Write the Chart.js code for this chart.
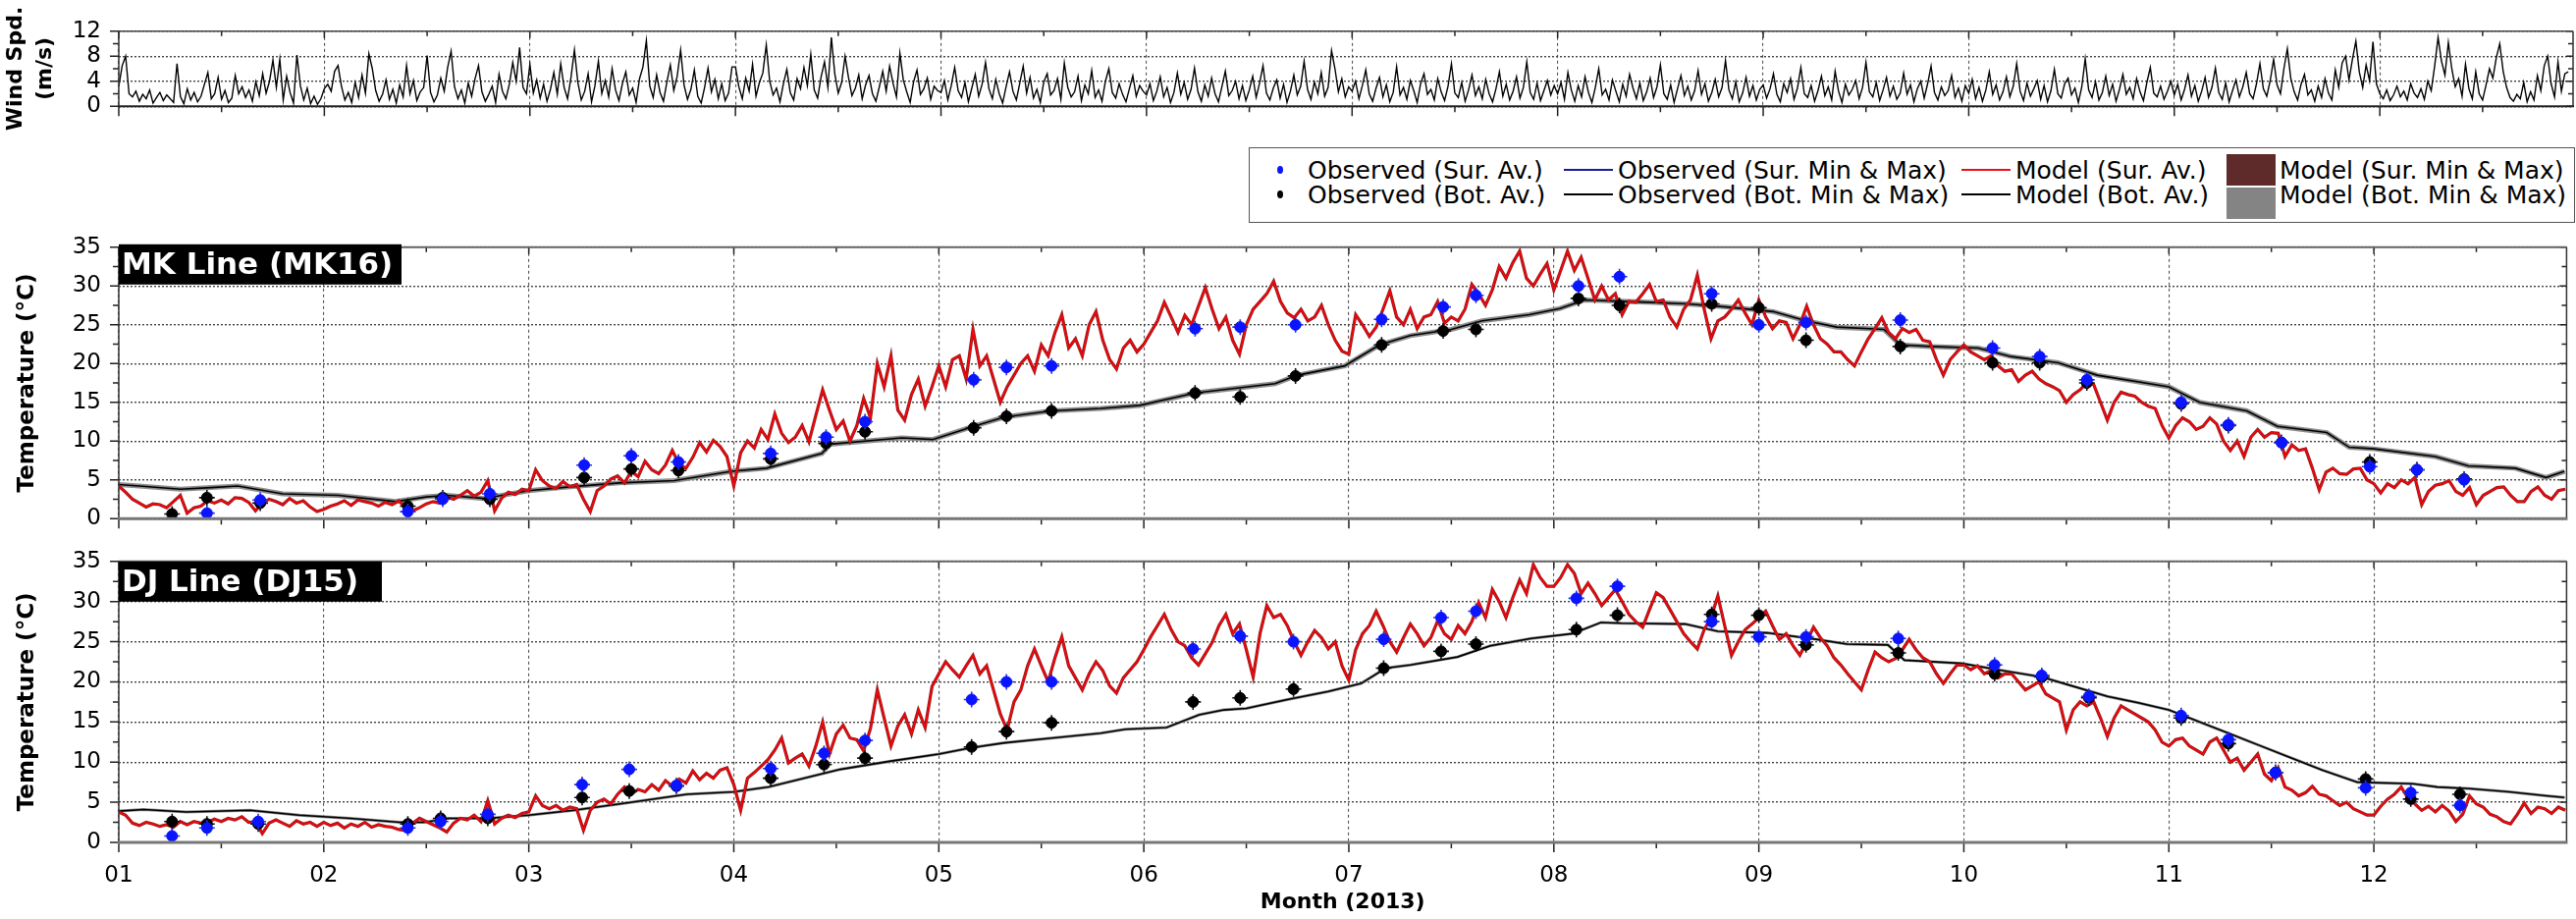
<!DOCTYPE html>
<html><head><meta charset="utf-8">
<script src="https://cdn.jsdelivr.net/npm/chart.js@4.4.1/dist/chart.umd.min.js"></script>
<style>
html,body{margin:0;padding:0;background:#fff;width:2624px;height:936px;overflow:hidden}
canvas.cv{position:absolute;left:0}
#legend{position:absolute;left:1272px;top:150px;width:1351px;height:77px;border:1.5px solid #555;box-sizing:border-box;font-family:'DejaVu Sans',sans-serif;font-size:25px;color:#000;background:#fff}
.lt{position:absolute;white-space:nowrap;line-height:1;transform:translateY(-50%)}
.lm{position:absolute}
</style></head><body>
<canvas id="cWind" class="cv" style="top:0" width="2624" height="140"></canvas>
<canvas id="cMK" class="cv" style="top:220px" width="2624" height="340"></canvas>
<canvas id="cDJ" class="cv" style="top:540px" width="2624" height="396"></canvas>
<div id="legend"></div>
<script>
// ---------- axis / tick definitions ----------
const monthLabels = ['01','02','03','04','05','06','07','08','09','10','11','12'];
const xMajorTicks = [0,1,2,3,4,5,6,7,8,9,10,11];
const xMinorTicks = [0.5,1.5,2.5,3.5,4.5,5.5,6.5,7.5,8.5,9.5,10.5,11.5];
const xMax = 11.94;
const windMajorTicks = [0,4,8,12];
const windMinorTicks = [2,6,10];
const tempMajorTicks = [0,5,10,15,20,25,30,35];
const tempMinorTicks = [2.5,7.5,12.5,17.5,22.5,27.5,32.5];
const windPerMonth = 60;   // samples per month in windSpeed
const tempPerMonth = 30;   // samples per month in model surface series

// ---------- wind speed (m/s) ----------
const windSpeed = [
3.2,6.5,8.0,2.0,1.5,2.4,0.8,1.9,1.2,2.6,0.5,1.4,2.2,0.9,1.8,1.2,0.6,6.8,1.5,0.4,2.8,1.0,2.2,0.7,1.6,3.5,5.4,1.2,2.0,4.6,1.1,2.5,0.6,1.3,4.9,2.0,3.1,1.4,2.6,0.8,3.9,1.7,5.2,2.1,4.0,7.4,3.0,7.5,1.0,4.8,2.2,0.5,8.2,3.3,1.0,2.9,0.4,1.6,0.3,1.2,
2.8,3.5,2.4,5.6,6.5,3.2,1.0,2.2,0.6,3.8,1.4,5.0,2.1,8.4,6.0,2.5,0.8,1.9,4.2,1.1,2.7,0.5,3.4,1.5,6.5,2.0,4.1,0.9,2.3,3.0,8.1,2.2,0.7,1.8,4.5,2.4,6.2,8.8,3.1,1.2,2.6,0.5,3.7,1.6,4.4,6.5,2.3,0.8,1.9,3.2,0.6,5.1,2.4,1.2,3.5,7.0,4.0,9.4,3.0,2.0,
6.7,2.1,4.2,1.3,3.5,0.8,2.7,5.4,1.9,6.8,3.0,1.2,4.6,9.0,3.8,1.0,2.4,5.2,0.7,3.3,7.2,2.0,4.1,1.5,6.0,2.6,0.9,3.6,5.5,1.8,2.9,0.6,4.4,6.3,10.5,3.2,1.4,5.0,2.2,0.8,3.9,6.6,2.5,4.8,9.0,3.4,1.1,2.7,5.8,1.6,0.5,3.0,6.1,2.3,4.3,1.2,3.6,0.9,2.1,6.3,
6.3,3.1,1.2,4.5,2.4,6.7,1.6,3.8,5.3,9.8,4.0,1.8,2.9,0.7,3.6,5.9,2.2,1.0,4.4,2.8,6.2,3.3,8.3,2.6,1.3,4.7,7.1,3.0,11.0,5.2,2.1,3.8,8.0,4.6,1.7,2.9,5.0,1.2,3.4,4.9,2.0,0.8,3.1,5.6,2.4,6.4,3.7,1.5,8.5,4.2,2.3,0.6,3.9,5.8,1.9,2.8,4.5,1.1,3.2,2.5,
2.2,4.1,1.0,3.3,6.2,2.5,1.4,3.8,0.7,2.9,5.1,1.6,3.5,7.0,2.8,1.2,4.3,2.0,0.5,3.1,5.5,2.4,1.0,3.7,6.4,2.1,4.6,1.3,2.7,0.6,3.9,5.2,1.8,2.5,4.4,1.1,6.9,3.0,1.5,2.3,4.8,0.9,3.4,2.0,5.7,1.4,2.6,0.8,4.0,6.0,2.2,1.3,3.6,1.9,0.7,2.8,4.9,1.6,3.3,2.4,
1.8,3.6,0.9,2.4,4.7,1.5,3.0,0.6,2.2,5.3,1.9,3.8,1.1,2.7,6.1,2.3,0.8,3.4,1.6,4.5,2.0,0.7,3.1,5.6,1.7,2.5,4.0,1.2,3.3,0.9,2.6,4.8,1.4,3.7,6.5,2.1,1.0,2.9,4.2,1.3,3.5,0.6,2.4,5.0,1.8,3.2,7.2,2.7,1.1,3.9,2.0,5.4,1.6,3.0,8.9,6.0,2.3,4.4,1.5,3.1,
2.4,4.0,1.2,3.3,5.8,2.0,0.8,2.9,4.6,1.5,3.4,0.7,2.2,6.3,1.8,3.0,1.1,4.1,2.5,0.6,3.6,5.2,1.9,2.7,1.0,4.4,2.3,0.9,3.2,6.8,2.1,1.4,3.8,0.8,2.6,5.0,1.7,3.1,1.2,4.3,2.0,0.7,2.8,5.5,1.6,3.5,1.0,2.4,4.7,1.3,3.0,7.1,2.2,1.1,3.7,0.9,2.5,4.1,1.8,3.3,
2.0,3.8,1.1,5.4,2.6,0.8,3.3,1.5,4.7,2.2,0.6,3.0,6.0,1.8,2.7,1.0,4.2,2.4,0.7,3.5,1.6,5.1,2.9,1.2,3.7,0.9,2.3,4.5,1.4,3.1,6.6,2.0,1.1,3.4,0.6,2.8,4.9,1.7,3.2,1.0,2.5,5.7,1.9,3.6,0.8,2.2,4.3,1.5,3.0,7.3,2.6,1.2,3.9,0.7,2.1,4.6,1.6,3.3,1.0,2.7,
3.4,1.3,2.8,5.2,1.9,0.7,3.6,2.2,4.4,1.1,2.9,6.2,2.0,1.4,3.3,0.8,2.5,4.8,1.7,3.1,1.0,5.6,2.4,0.6,3.5,1.8,2.7,4.1,1.2,3.0,7.0,2.3,1.5,3.8,0.9,2.6,4.6,1.6,3.2,1.1,2.1,5.3,1.9,3.4,0.7,2.8,4.0,1.3,3.6,6.4,2.2,1.0,3.1,1.7,2.5,4.9,1.4,2.9,0.8,3.3,
2.1,4.3,1.2,3.0,0.8,2.6,5.5,1.9,3.4,1.0,2.3,4.7,1.5,3.2,6.8,2.4,0.9,3.7,1.6,2.8,4.1,1.1,3.3,0.7,2.5,5.9,2.0,1.3,3.6,4.5,1.8,2.9,0.6,3.1,7.6,2.6,1.4,3.9,1.0,2.2,4.8,1.7,3.5,0.8,2.7,5.1,1.9,3.0,1.2,4.4,2.3,0.9,3.8,6.2,2.1,1.5,3.2,1.1,2.4,4.0,
1.8,3.5,1.0,2.7,5.0,1.6,3.3,0.8,2.4,4.6,1.4,3.0,6.1,2.2,1.1,3.7,0.7,2.5,4.2,1.5,3.1,5.4,2.0,1.2,3.6,6.8,2.8,1.6,4.1,7.5,3.4,2.0,6.0,9.2,4.5,2.3,1.0,3.5,5.1,1.8,2.6,0.8,3.2,1.4,4.4,2.1,1.0,5.8,3.0,6.9,8.0,4.2,7.5,10.4,5.5,3.0,6.6,4.1,10.3,3.6,
2.0,1.2,2.6,0.9,1.8,3.2,1.5,2.4,1.0,3.6,2.1,1.4,2.8,1.1,4.0,2.5,6.4,11.0,7.2,5.0,10.2,6.0,3.1,4.4,1.6,6.7,2.8,1.2,5.5,2.0,1.0,3.4,6.0,4.5,7.8,10.0,5.6,3.0,1.4,0.8,1.9,1.2,3.8,0.7,2.3,1.0,4.9,2.5,6.5,8.0,3.6,1.5,7.1,2.4,5.2,5.5
];

// ---------- MK16 model surface temperature (daily) ----------
const mkSurface = [
4.2,3.4,2.5,2.0,1.5,1.9,1.8,1.4,2.2,3.0,0.7,1.4,1.6,2.3,2.0,2.4,1.9,2.7,2.6,2.1,1.0,2.0,2.5,2.2,1.8,2.6,2.0,2.3,1.5,0.9,
1.2,1.6,1.9,2.3,1.7,2.4,2.2,2.0,1.6,2.1,1.8,2.3,1.3,1.0,1.4,1.9,2.2,2.0,2.8,2.5,3.0,3.6,2.9,3.4,4.9,1.0,2.6,3.4,3.1,3.8,
3.6,6.3,4.9,4.2,3.9,4.8,4.1,4.4,2.5,0.9,3.6,4.2,5.1,5.5,4.6,6.1,5.4,7.4,6.3,5.8,6.9,8.8,7.0,6.5,7.9,9.8,8.6,10.1,9.3,8.0,
4.2,8.5,10.0,9.1,11.5,10.2,13.5,11.0,9.8,10.5,12.0,9.9,13.3,16.6,14.0,11.5,12.6,10.0,12.0,15.5,13.0,20.0,17.0,21.0,14.0,12.7,16.0,18.0,14.5,17.0,
19.7,17.0,20.5,21.0,18.0,24.4,19.7,21.0,18.0,15.0,17.0,18.5,20.0,21.0,19.0,22.4,21.0,24.0,26.3,22.0,23.2,21.0,25.0,26.7,23.0,20.5,19.3,22.0,23.0,21.5,
22.5,24.0,25.5,27.9,26.0,24.0,26.2,25.0,27.4,29.8,27.0,24.5,26.0,23.0,21.2,25.0,27.0,28.0,29.0,30.6,28.0,26.5,25.9,27.0,25.5,26.0,27.5,25.0,23.0,21.6,
21.2,26.3,25.0,23.5,24.7,27.0,29.4,26.0,25.0,27.0,24.5,26.0,26.3,28.0,25.2,26.0,25.5,27.0,30.2,29.0,27.5,29.5,32.5,31.0,33.0,34.5,31.0,30.0,31.5,32.9,
29.5,32.0,34.5,32.0,33.7,31.0,28.2,30.0,28.2,29.0,26.3,28.0,27.9,29.0,30.2,28.0,28.2,26.0,24.7,27.0,28.2,31.4,27.0,23.2,25.5,26.0,27.0,28.2,26.5,25.0,
28.2,26.0,24.5,25.5,25.3,23.2,25.0,27.4,25.0,23.2,22.5,21.5,21.5,20.5,19.7,21.5,23.2,24.5,25.9,24.0,23.2,24.5,24.0,24.4,23.0,22.8,20.5,18.5,20.5,21.5,
22.4,21.5,21.0,20.5,21.0,19.7,19.0,19.2,17.7,18.5,19.0,18.0,17.4,17.0,16.5,15.0,16.0,16.6,17.5,17.3,15.0,12.7,15.0,16.3,16.0,15.8,15.0,14.5,14.2,12.0,
10.4,12.0,13.0,12.5,11.5,11.9,13.0,12.2,10.0,8.8,10.0,8.0,10.5,11.5,10.5,11.1,11.0,8.0,9.5,8.8,9.0,6.5,3.7,6.0,6.5,5.8,5.7,6.4,6.5,5.0,
4.5,3.3,4.5,4.0,5.0,4.5,5.3,1.8,3.5,4.3,4.5,4.9,3.5,3.0,4.0,1.8,3.0,3.5,4.0,4.1,3.0,2.2,2.2,3.5,4.1,3.0,2.5,3.6,3.8
];
// MK16 model bottom temperature [month, °C]
const mkBottom = [[0,4.4],[0.1,4.2],[0.3,3.8],[0.45,4.0],[0.58,4.2],[0.8,3.2],[1.07,3.0],[1.35,2.2],[1.5,2.8],[1.6,3.0],[1.78,2.6],[2.0,3.6],[2.16,4.0],[2.44,4.6],[2.71,4.9],[2.99,6.1],[3.16,6.5],[3.43,8.4],[3.47,9.6],[3.82,10.4],[3.97,10.2],[4.17,11.9],[4.32,13.1],[4.55,13.9],[4.79,14.2],[4.98,14.6],[5.25,16.2],[5.64,17.4],[5.75,18.5],[5.98,19.7],[6.03,20.5],[6.15,22.4],[6.3,23.6],[6.5,24.4],[6.65,25.5],[6.88,26.3],[7.03,27.1],[7.15,28.2],[7.46,27.9],[7.65,27.7],[7.84,27.3],[8.07,26.7],[8.23,25.5],[8.38,24.7],[8.61,24.4],[8.69,22.4],[8.84,22.2],[9.07,22.0],[9.23,20.9],[9.46,20.1],[9.65,18.5],[10.0,17.0],[10.15,15.0],[10.38,13.9],[10.53,11.9],[10.77,11.1],[10.88,9.2],[11.0,9.0],[11.3,8.0],[11.46,6.8],[11.69,6.5],[11.84,5.3],[11.93,6.1]];
// MK16 observations
const mkObsMonths = [0.26,0.43,0.69,1.41,1.58,1.81,2.27,2.50,2.73,3.18,3.45,3.64,4.17,4.33,4.55,5.25,5.47,5.74,6.16,6.46,6.62,7.12,7.32,7.77,8.0,8.23,8.69,9.14,9.37,9.60,10.06,10.29,10.55,10.98,11.21,11.44];
const mkObsSurface = [null,0.7,2.4,0.9,2.5,3.2,6.9,8.1,7.3,8.4,10.5,12.5,17.9,19.5,19.7,24.5,24.7,25.0,25.7,27.3,28.8,30.0,31.2,29.0,25.0,25.3,25.6,22.0,20.9,17.9,15.0,12.1,9.8,6.7,6.3,5.0];
const mkObsBottom = [0.6,2.7,2.0,1.6,2.7,2.5,5.3,6.4,6.2,7.7,9.7,11.2,11.7,13.2,13.9,16.2,15.7,18.4,22.4,24.2,24.4,28.4,27.5,27.7,27.2,23.0,22.2,20.1,20.1,17.5,14.8,12.0,9.8,7.3,6.3,5.1];

// ---------- DJ15 model surface temperature (daily) ----------
const djSurface = [
3.8,3.4,2.4,2.1,2.5,2.3,2.0,2.2,1.9,2.6,2.2,2.6,2.4,2.5,2.9,2.6,3.0,2.8,3.2,2.5,2.6,1.1,2.4,2.8,2.4,2.0,2.7,2.3,2.5,2.0,
2.5,2.1,2.4,1.8,2.3,2.0,2.5,1.9,2.2,2.0,1.9,1.6,1.5,2.4,3.0,2.6,2.2,1.8,1.3,2.4,3.0,2.8,3.4,2.6,5.2,2.3,3.0,3.4,3.1,3.6,
3.8,5.8,4.6,4.2,4.6,4.0,4.4,4.2,1.5,4.0,5.0,5.4,4.8,6.0,6.9,6.0,6.6,6.3,7.2,6.5,7.7,7.0,7.9,7.4,8.9,7.8,8.6,8.0,9.0,9.3,
7.2,4.0,8.0,8.7,9.5,10.3,11.5,13.0,9.9,10.5,11.0,9.5,12.0,15.0,11.0,13.5,14.6,13.0,12.8,11.4,14.2,19.0,15.5,12.0,14.5,15.9,13.5,16.5,14.3,19.4,
21.0,22.5,21.5,20.6,22.0,23.3,21.0,22.0,19.0,16.0,14.0,17.5,19.0,22.0,24.1,22.0,20.0,23.0,25.6,22.0,20.5,19.0,21.0,22.5,21.4,19.5,18.6,20.5,21.5,22.5,
24.0,25.6,27.0,28.4,26.5,25.0,24.5,23.0,22.1,23.5,24.9,27.0,28.4,26.0,27.2,24.0,20.6,26.0,29.5,28.0,28.4,27.0,25.0,23.3,25.0,26.4,25.5,24.1,25.0,22.0,
20.2,24.0,26.0,27.0,28.8,27.0,25.0,23.7,25.5,27.2,26.0,24.5,25.5,27.6,26.0,25.3,27.0,26.0,27.5,29.9,28.0,31.5,30.0,28.0,30.5,32.7,31.0,34.6,33.0,31.9,
31.9,33.0,34.6,33.5,31.0,32.3,31.0,29.5,30.5,31.5,30.0,28.4,27.5,26.8,29.0,31.1,30.5,29.0,27.5,26.0,25.0,24.1,26.5,28.0,30.7,27.0,23.3,25.0,26.5,27.2,
28.0,28.8,27.0,25.3,26.0,24.5,23.3,25.0,26.8,25.5,24.5,23.0,22.1,21.0,20.0,19.0,21.5,23.7,23.0,22.5,22.9,24.0,25.3,24.0,23.0,22.5,21.0,19.8,21.0,22.1,
22.1,21.5,22.0,21.0,21.4,20.5,21.0,21.0,20.0,19.0,19.5,20.0,18.5,18.0,17.5,14.0,16.5,17.5,17.0,17.5,15.5,13.2,15.5,17.0,16.5,16.0,15.5,15.0,14.0,12.5,
12.0,12.8,13.0,12.0,11.5,11.0,12.5,13.0,11.5,10.0,10.5,9.0,10.0,11.0,8.5,7.7,9.3,6.9,6.5,5.8,6.2,7.0,6.0,5.8,5.2,4.6,5.0,4.2,3.8,3.4,
3.4,4.5,5.4,6.0,6.9,5.5,4.8,4.0,4.5,3.8,4.6,3.9,2.6,3.5,5.8,4.8,4.4,3.5,3.2,2.6,2.3,3.5,4.9,3.6,4.4,4.2,3.6,4.4,4.0
];
// DJ15 model bottom temperature [month, °C]
const djBottom = [[0,3.9],[0.12,4.1],[0.33,3.8],[0.64,4.0],[0.88,3.4],[1.13,3.0],[1.37,2.5],[1.49,2.5],[1.61,3.0],[1.8,3.0],[2.0,3.4],[2.22,4.0],[2.47,4.9],[2.77,6.0],[3.0,6.3],[3.17,6.9],[3.52,9.1],[3.76,10.1],[4.0,11.0],[4.16,11.8],[4.32,12.4],[4.55,13.0],[4.79,13.6],[4.91,14.1],[5.11,14.3],[5.27,15.9],[5.39,16.5],[5.5,16.7],[5.7,17.8],[5.9,18.8],[6.06,19.8],[6.18,21.7],[6.3,22.1],[6.53,23.1],[6.69,24.5],[6.89,25.4],[7.09,26.0],[7.23,27.4],[7.33,27.3],[7.64,27.2],[7.8,26.3],[8.04,26.1],[8.28,25.3],[8.43,24.7],[8.63,24.6],[8.71,22.7],[8.99,22.3],[9.19,21.4],[9.38,20.6],[9.54,19.4],[9.7,18.2],[9.85,17.4],[10.0,16.5],[10.15,15.0],[10.3,13.5],[10.45,12.0],[10.6,10.5],[10.75,9.0],[10.92,7.5],[11.19,7.3],[11.31,6.9],[11.47,6.7],[11.66,6.3],[11.84,5.8],[11.93,5.6]];
// DJ15 observations
const djObsMonths = [0.26,0.43,0.68,1.41,1.57,1.80,2.26,2.49,2.72,3.18,3.44,3.64,4.16,4.33,4.55,5.24,5.47,5.73,6.17,6.45,6.62,7.11,7.31,7.77,8.0,8.23,8.68,9.15,9.38,9.61,10.06,10.29,10.52,10.96,11.18,11.42];
const djObsSurface = [0.8,1.8,2.6,1.8,2.6,3.5,7.2,9.1,7.1,9.2,11.1,12.7,17.8,20.0,20.0,24.1,25.7,25.0,25.3,28.0,28.8,30.4,31.9,27.5,25.6,25.6,25.4,22.1,20.8,18.2,15.8,12.8,8.7,6.8,6.2,4.6];
const djObsBottom = [2.6,2.3,2.3,2.3,3.0,3.0,5.6,6.4,7.0,8.0,9.7,10.5,11.9,13.8,14.9,17.5,18.0,19.1,21.7,23.8,24.7,26.5,28.3,28.4,28.3,24.6,23.6,21.0,20.6,18.0,15.5,12.3,8.7,7.9,5.4,6.0];

// ---------- helpers ----------
Chart.defaults.font.family = "'DejaVu Sans', sans-serif";
Chart.defaults.color = '#000';
const FONT_TICK = {size: 23};
const seriesXY = (arr, perMonth) => arr.map((v, i) => ({x: i / perMonth, y: v}));
const pairsXY = arr => arr.map(p => ({x: p[0], y: p[1]}));
const obsXY = (months, vals) => months.map((m, i) => ({x: m, y: vals[i]})).filter(p => p.y !== null);

const framePlugin = {
  id: 'frame',
  afterDraw(chart, args, o) {
    const {ctx, chartArea: a, scales: {x, y}} = chart;
    ctx.save();
    ctx.strokeStyle = '#222';
    ctx.lineWidth = 1.5;
    ctx.beginPath();
    xMajorTicks.forEach(v => { const p = x.getPixelForValue(v);
      ctx.moveTo(p, a.bottom); ctx.lineTo(p, a.bottom + 10); ctx.moveTo(p, a.top); ctx.lineTo(p, a.top + 7); });
    xMinorTicks.forEach(v => { const p = x.getPixelForValue(v);
      ctx.moveTo(p, a.bottom); ctx.lineTo(p, a.bottom + 6); ctx.moveTo(p, a.top); ctx.lineTo(p, a.top + 5); });
    o.yMajor.forEach(v => { const p = y.getPixelForValue(v);
      ctx.moveTo(a.left - 9, p); ctx.lineTo(a.left, p); ctx.moveTo(a.right, p); ctx.lineTo(a.right - 7, p); });
    o.yMinor.forEach(v => { const p = y.getPixelForValue(v);
      ctx.moveTo(a.left - 6, p); ctx.lineTo(a.left, p); ctx.moveTo(a.right, p); ctx.lineTo(a.right - 5, p); });
    ctx.stroke();
    ctx.strokeStyle = '#333';
    ctx.lineWidth = 1.5;
    ctx.beginPath();
    ctx.moveTo(a.left, a.top); ctx.lineTo(a.left, a.bottom);
    ctx.moveTo(a.right, a.top); ctx.lineTo(a.right, a.bottom);
    ctx.stroke();
    ctx.strokeStyle = o.topColor; ctx.lineWidth = o.topWidth;
    ctx.beginPath(); ctx.moveTo(a.left, a.top); ctx.lineTo(a.right, a.top); ctx.stroke();
    ctx.strokeStyle = o.bottomColor; ctx.lineWidth = o.bottomWidth;
    ctx.beginPath(); ctx.moveTo(a.left - 1, a.bottom); ctx.lineTo(a.right + 1, a.bottom); ctx.stroke();
    if (o.label) {
      ctx.fillStyle = '#000';
      ctx.fillRect(a.left, a.top + o.labelDy, o.labelW, 41);
      ctx.fillStyle = '#fff';
      ctx.font = "bold 31px 'DejaVu Sans'";
      ctx.textBaseline = 'middle';
      ctx.textAlign = 'left';
      ctx.fillText(o.label, a.left + 3, a.top + o.labelDy + 22);
    }
    ctx.restore();
  }
};

function xScale(height, showLabels) {
  return {
    type: 'linear', min: 0, max: xMax,
    afterFit: s => { s.height = height; },
    grid: {drawTicks: false, lineWidth: 1.1,
      color: c => (c.tick && Number.isInteger(c.tick.value)) ? '#555' : 'rgba(0,0,0,0)'},
    border: {display: false, dash: [3, 3]},
    ticks: {display: showLabels, stepSize: 0.5, includeBounds: false, autoSkip: false, maxRotation: 0,
      padding: 20, font: FONT_TICK,
      callback: v => Number.isInteger(v) ? monthLabels[v] : ''},
    title: showLabels ? {display: true, text: 'Month (2013)', font: {size: 22, weight: 'bold'}, padding: {top: 0, bottom: 4}} : {display: false}
  };
}
function yScale(max, step, labelEvery, title, titleFont, titlePad) {
  return {
    type: 'linear', min: 0, max: max,
    afterFit: s => { s.width = 121; },
    grid: {drawTicks: false, lineWidth: 1.4,
      color: c => (c.tick && Math.abs(c.tick.value % labelEvery) < 1e-6) ? '#444' : 'rgba(0,0,0,0)'},
    border: {display: false, dash: [2, 2]},
    ticks: {stepSize: step, padding: 18, font: FONT_TICK, autoSkip: false,
      callback: v => Math.abs(v % labelEvery) < 1e-6 ? String(v) : ''},
    title: {display: true, text: title, font: titleFont, padding: titlePad}
  };
}
function baseOptions(padding, xs, ys, frame) {
  return {
    responsive: false, animation: false, events: [],
    layout: {padding: padding},
    plugins: {legend: {display: false}, tooltip: {enabled: false}, frame: frame},
    scales: {x: xs, y: ys}
  };
}
function tempDatasets(sur, bot, obsM, obsS, obsB, bandW) {
  const s = seriesXY(sur, tempPerMonth);
  const b = pairsXY(bot);
  const os = obsXY(obsM, obsS), ob = obsXY(obsM, obsB);
  const line = {type: 'line', pointRadius: 0, tension: 0, fill: false, spanGaps: true};
  return [
    {type: 'scatter', label: 'Observed (Sur. Av.)', data: os, pointStyle: 'circle', pointRadius: 5.5, backgroundColor: '#0a14ff', borderColor: '#0a14ff', borderWidth: 1, order: 0},
    {type: 'scatter', label: 'Observed (Sur. Min & Max)', data: os, pointStyle: 'cross', pointRadius: 8, borderColor: '#2a35c8', borderWidth: 1.6, order: 1},
    {type: 'scatter', label: 'Observed (Bot. Av.)', data: ob, pointStyle: 'circle', pointRadius: 5.5, backgroundColor: '#000', borderColor: '#000', borderWidth: 1, order: 2},
    {type: 'scatter', label: 'Observed (Bot. Min & Max)', data: ob, pointStyle: 'cross', pointRadius: 8, borderColor: '#111', borderWidth: 1.6, order: 3},
    Object.assign({label: 'Model (Sur. Av.)', data: s, borderColor: '#f0060c', borderWidth: 1.8, order: 4}, line),
    Object.assign({label: 'Model (Sur. Min & Max)', data: s, borderColor: '#8a1f1f', borderWidth: 3.2, order: 5}, line),
    Object.assign({label: 'Model (Bot. Av.)', data: b, borderColor: '#000', borderWidth: 1.6, order: 6}, line),
    Object.assign({label: 'Model (Bot. Min & Max)', data: b, borderColor: '#8e8e8e', borderWidth: bandW, order: 7}, line)
  ];
}

// ---------- wind panel ----------
new Chart(document.getElementById('cWind'), {
  type: 'line',
  data: {datasets: [{label: 'Wind speed', data: seriesXY(windSpeed, windPerMonth), borderColor: '#000', borderWidth: 1.4, pointRadius: 0, tension: 0, fill: false}]},
  options: baseOptions({top: 21, right: 3, left: 0, bottom: 0}, xScale(19, false),
    yScale(12, 2, 4, ['Wind Spd.', '(m/s)'], {size: 22, weight: 'bold', lineHeight: 1.364}, {top: 1, bottom: 0}),
    {yMajor: windMajorTicks, yMinor: windMinorTicks, topColor: '#444', topWidth: 1.5, bottomColor: '#222', bottomWidth: 2}),
  plugins: [framePlugin]
});

// ---------- MK16 panel ----------
new Chart(document.getElementById('cMK'), {
  type: 'line',
  data: {datasets: tempDatasets(mkSurface, mkBottom, mkObsMonths, mkObsSurface, mkObsBottom, 5)},
  options: baseOptions({top: 19, right: 3, left: 0, bottom: 0}, xScale(21, false),
    yScale(35, 2.5, 5, 'Temperature (°C)', {size: 23, weight: 'bold'}, {top: 14, bottom: 0}),
    {yMajor: tempMajorTicks, yMinor: tempMinorTicks, topColor: '#666', topWidth: 2, bottomColor: '#777', bottomWidth: 3, label: 'MK Line (MK16)', labelW: 288, labelDy: -3}),
  plugins: [framePlugin]
});

// ---------- DJ15 panel ----------
new Chart(document.getElementById('cDJ'), {
  type: 'line',
  data: {datasets: tempDatasets(djSurface, djBottom, djObsMonths, djObsSurface, djObsBottom, 3)},
  options: baseOptions({top: 19, right: 3, left: 0, bottom: 0}, xScale(78, true),
    yScale(35, 2.5, 5, 'Temperature (°C)', {size: 23, weight: 'bold'}, {top: 14, bottom: 0}),
    {yMajor: tempMajorTicks, yMinor: tempMinorTicks, topColor: '#666', topWidth: 2, bottomColor: '#777', bottomWidth: 3, label: 'DJ Line (DJ15)', labelW: 268, labelDy: 0}),
  plugins: [framePlugin]
});

// ---------- legend (HTML) ----------
const legendItems = [
  {text: 'Observed (Sur. Av.)', kind: 'dot', color: '#0a14ff', row: 0, mx: 31, tx: 59},
  {text: 'Observed (Sur. Min & Max)', kind: 'line', color: '#1a1a9a', row: 0, mx: 320, tx: 375},
  {text: 'Model (Sur. Av.)', kind: 'line', color: '#e8101a', row: 0, mx: 725, tx: 780},
  {text: 'Model (Sur. Min & Max)', kind: 'box', color: '#5e2a2a', row: 0, mx: 995, tx: 1049},
  {text: 'Observed (Bot. Av.)', kind: 'dot', color: '#000', row: 1, mx: 31, tx: 59},
  {text: 'Observed (Bot. Min & Max)', kind: 'line', color: '#000', row: 1, mx: 320, tx: 375},
  {text: 'Model (Bot. Av.)', kind: 'line', color: '#000', row: 1, mx: 725, tx: 780},
  {text: 'Model (Bot. Min & Max)', kind: 'box', color: '#848484', row: 1, mx: 995, tx: 1049}
];
const leg = document.getElementById('legend');
const rowY = [22, 47];
legendItems.forEach(it => {
  const m = document.createElement('div');
  m.className = 'lm';
  if (it.kind === 'dot') {
    Object.assign(m.style, {left: (it.mx - 3) + 'px', top: (rowY[it.row] - 4) + 'px', width: '6px', height: '8px', borderRadius: '50%', background: it.color});
  } else if (it.kind === 'line') {
    Object.assign(m.style, {left: it.mx + 'px', top: (rowY[it.row] - 1) + 'px', width: '50px', height: '1.6px', background: it.color});
  } else {
    Object.assign(m.style, {left: it.mx + 'px', top: (it.row === 0 ? 6 : 40) + 'px', width: '50px', height: '32px', background: it.color});
  }
  leg.appendChild(m);
  const t = document.createElement('div');
  t.className = 'lt';
  t.textContent = it.text;
  Object.assign(t.style, {left: it.tx + 'px', top: rowY[it.row] + 'px'});
  leg.appendChild(t);
});
</script>
</body></html>
